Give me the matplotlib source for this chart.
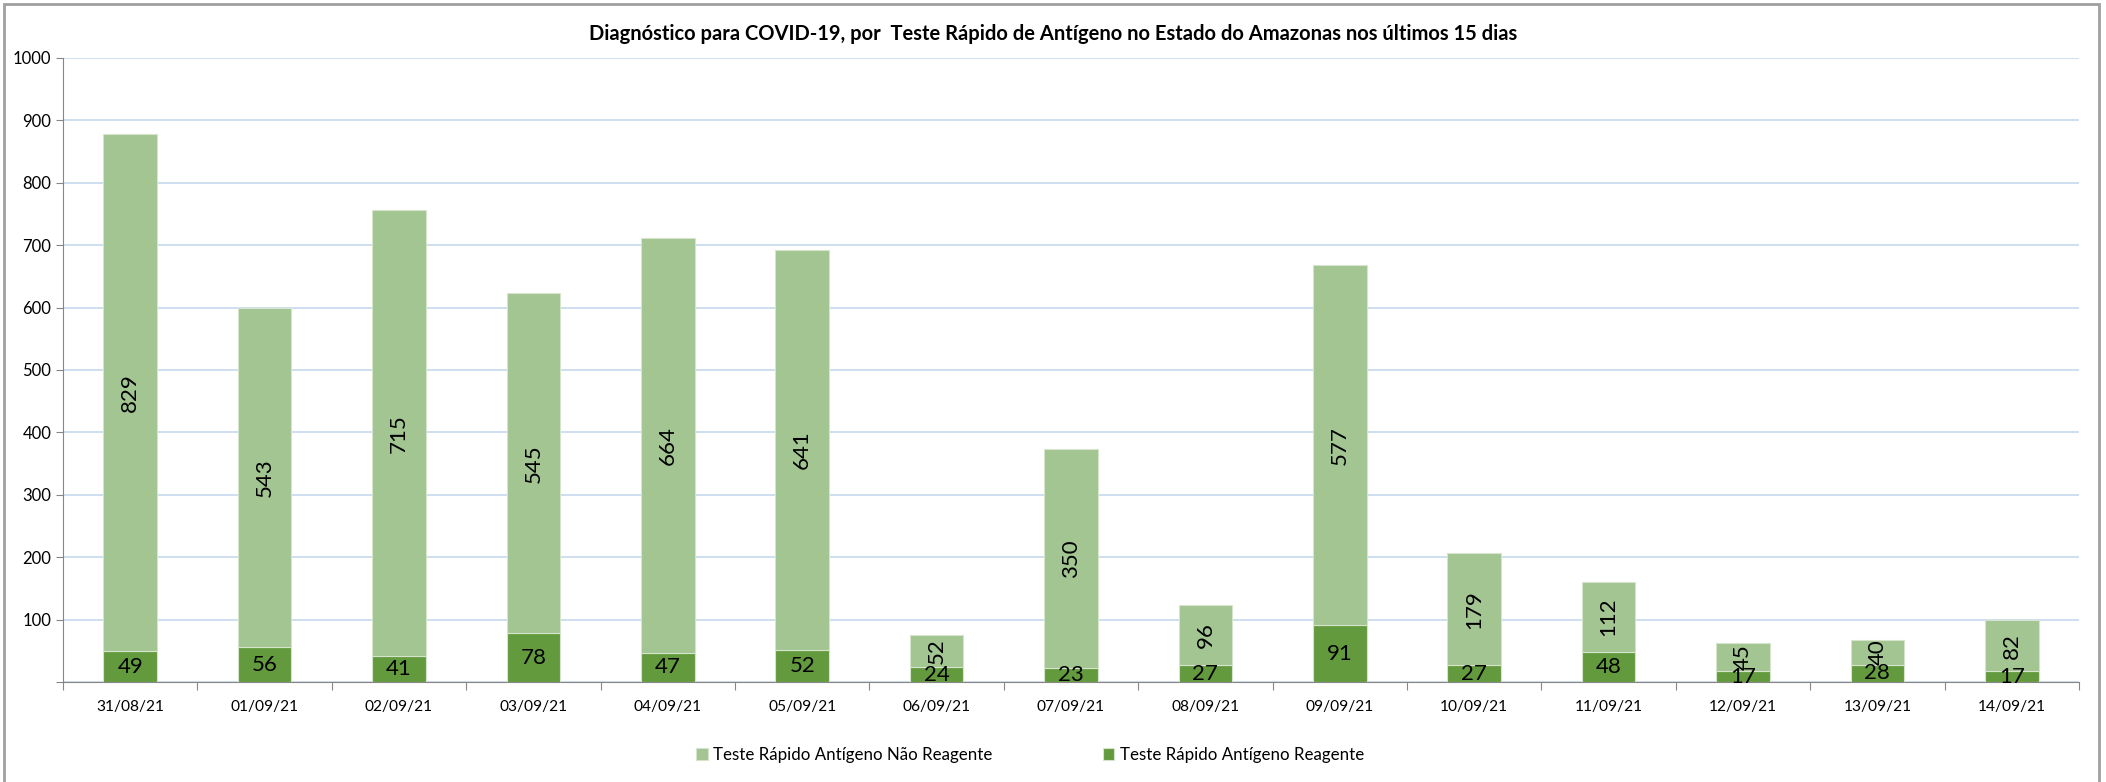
import matplotlib
matplotlib.use("Agg")
import matplotlib.pyplot as plt
import numpy as np

plt.rcParams['font.family'] = ['Lato', 'DejaVu Sans']

datas = ["31/08/21", "01/09/21", "02/09/21", "03/09/21", "04/09/21", "05/09/21",
         "06/09/21", "07/09/21", "08/09/21", "09/09/21", "10/09/21", "11/09/21",
         "12/09/21", "13/09/21", "14/09/21"]
reagente = [49, 56, 41, 78, 47, 52, 24, 23, 27, 91, 27, 48, 17, 28, 17]
nao_reagente = [829, 543, 715, 545, 664, 641, 52, 350, 96, 577, 179, 112, 45, 40, 82]
yticks = [100, 200, 300, 400, 500, 600, 700, 800, 900, 1000]

light = '#A2C592'
dark = '#629A3D'

fig = plt.figure(figsize=(21.06, 7.82), dpi=100)
ax = fig.add_axes([63/2106, 1-682/782, (2079-63)/2106, (682-58)/782])

x = np.arange(len(datas))
w = 0.4
b1 = ax.bar(x, reagente, w, color=dark, edgecolor='#D5E4CB', linewidth=0.8,
            label='Teste Rápido Antígeno Reagente', zorder=3)
b2 = ax.bar(x, nao_reagente, w, bottom=reagente, color=light, edgecolor='#D5E4CB',
            linewidth=0.8, label='Teste Rápido Antígeno Não Reagente', zorder=3)

for i in range(len(datas)):
    ax.text(x[i], reagente[i]/2, str(reagente[i]), ha='center', va='center',
            fontsize=16, zorder=4)
    ax.text(x[i], reagente[i] + nao_reagente[i]/2, str(nao_reagente[i]), ha='center',
            va='center', rotation=90, fontsize=16, zorder=4)

ax.set_xlim(-0.5, len(datas)-0.5)
ax.set_ylim(0, 1000)
ax.set_yticks([0] + yticks)
ax.set_yticklabels([''] + [str(v) for v in yticks], fontsize=12)
ax.set_xticks(np.arange(len(datas)+1) - 0.5, minor=False)
ax.set_xticklabels([])
ax.set_xticks(x, minor=True)
ax.set_xticklabels(datas, minor=True, fontsize=11.2)
ax.tick_params(axis='x', which='minor', length=0, pad=13)
ax.tick_params(axis='x', which='major', length=6, color='#868686', direction='out')
ax.tick_params(axis='y', length=5, color='#868686', direction='out')
ax.grid(axis='y', color='#C6D9EC', linewidth=1.2, zorder=0)
for s in ['top', 'right']:
    ax.spines[s].set_visible(False)
for s in ['left', 'bottom']:
    ax.spines[s].set_color('#868686')

fig.text(0.5, 1-34/782, 'Diagnóstico para COVID-19, por  Teste Rápido de Antígeno no Estado do Amazonas nos últimos 15 dias',
         ha='center', va='center', fontsize=14.5, fontweight='bold')

h, l = ax.get_legend_handles_labels()
fig.legend(h[::-1], l[::-1], loc='center', bbox_to_anchor=(1030/2106, 1-755/782), ncol=2,
           frameon=False, fontsize=12.2, handlelength=0.7, handleheight=0.7,
           columnspacing=6.5, handletextpad=0.3)

border = plt.Rectangle((4/2106, -0.01), (2099-4)/2106, 1-4/782+0.01, transform=fig.transFigure,
                       fill=False, edgecolor='#A0A0A0', linewidth=2)
fig.patches.append(border)

fig.savefig('out.png', dpi=100)
